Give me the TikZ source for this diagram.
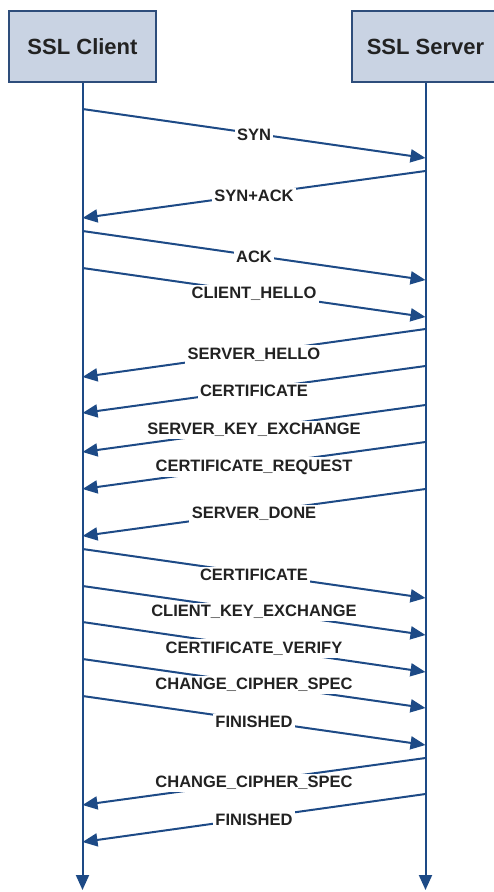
\documentclass[tikz,border=0pt]{standalone}
\usepackage{fontspec}
\setmainfont{Liberation Sans}
\usepackage{tikz}
\usetikzlibrary{arrows.meta}

\definecolor{azul}{HTML}{1D4A86}
\definecolor{borde}{HTML}{2E4D7B}
\definecolor{relleno}{HTML}{C9D3E3}
\definecolor{texto}{HTML}{222222}

\begin{document}
\begin{tikzpicture}[x=1pt, y=-1pt,
    caja/.style={draw=borde, line width=2pt, fill=relleno, minimum width=147pt, minimum height=71pt, text=texto, font=\bfseries\fontsize{22}{26}\selectfont},
    flecha/.style={draw=azul, line width=2pt, -{Triangle[length=15pt,width=13pt]}},
    etiqueta/.style={midway, fill=white, inner sep=2.5pt, yshift=-1.5pt, text=texto, font=\bfseries\fontsize{16.5}{18}\selectfont}]
  \useasboundingbox (0,0) rectangle (494,892);
  \clip (0,0) rectangle (494,892);

  % Cajas
  \node[caja] (cliente) at (82.5,46.5) {SSL Client};
  \node[caja] (servidor) at (425.5,46.5) {SSL Server};

  % Lineas de vida
  \coordinate (cfin) at (82.5,890);
  \coordinate (sfin) at (425.5,890);
  \draw[flecha] (cliente.south) -- (cfin);
  \draw[flecha] (servidor.south) -- (sfin);

  % Puntos de los mensajes
  \coordinate (c1) at (82.5,109);   \coordinate (s1) at (425.5,158);
  \coordinate (c2) at (82.5,218);   \coordinate (s2) at (425.5,171);
  \coordinate (c3) at (82.5,231);   \coordinate (s3) at (425.5,280);
  \coordinate (c4) at (82.5,268);   \coordinate (s4) at (425.5,317);
  \coordinate (c5) at (82.5,377);   \coordinate (s5) at (425.5,329);
  \coordinate (c6) at (82.5,413);   \coordinate (s6) at (425.5,366);
  \coordinate (c7) at (82.5,452);   \coordinate (s7) at (425.5,405);
  \coordinate (c8) at (82.5,489);   \coordinate (s8) at (425.5,442);
  \coordinate (c9) at (82.5,536);   \coordinate (s9) at (425.5,489);
  \coordinate (c10) at (82.5,549);  \coordinate (s10) at (425.5,598);
  \coordinate (c11) at (82.5,586);  \coordinate (s11) at (425.5,635);
  \coordinate (c12) at (82.5,622);  \coordinate (s12) at (425.5,672);
  \coordinate (c13) at (82.5,659);  \coordinate (s13) at (425.5,708);
  \coordinate (c14) at (82.5,696);  \coordinate (s14) at (425.5,745);
  \coordinate (c15) at (82.5,805);  \coordinate (s15) at (425.5,758);
  \coordinate (c16) at (82.5,842);  \coordinate (s16) at (425.5,794);

  % Mensajes
  \draw[flecha] (c1) -- node[etiqueta] {SYN} (s1);
  \draw[flecha] (s2) -- node[etiqueta] {SYN+ACK} (c2);
  \draw[flecha] (c3) -- node[etiqueta] {ACK} (s3);
  \draw[flecha] (c4) -- node[etiqueta] {CLIENT\_HELLO} (s4);
  \draw[flecha] (s5) -- node[etiqueta] {SERVER\_HELLO} (c5);
  \draw[flecha] (s6) -- node[etiqueta] {CERTIFICATE} (c6);
  \draw[flecha] (s7) -- node[etiqueta] {SERVER\_KEY\_EXCHANGE} (c7);
  \draw[flecha] (s8) -- node[etiqueta] {CERTIFICATE\_REQUEST} (c8);
  \draw[flecha] (s9) -- node[etiqueta] {SERVER\_DONE} (c9);
  \draw[flecha] (c10) -- node[etiqueta] {CERTIFICATE} (s10);
  \draw[flecha] (c11) -- node[etiqueta] {CLIENT\_KEY\_EXCHANGE} (s11);
  \draw[flecha] (c12) -- node[etiqueta] {CERTIFICATE\_VERIFY} (s12);
  \draw[flecha] (c13) -- node[etiqueta] {CHANGE\_CIPHER\_SPEC} (s13);
  \draw[flecha] (c14) -- node[etiqueta] {FINISHED} (s14);
  \draw[flecha] (s15) -- node[etiqueta] {CHANGE\_CIPHER\_SPEC} (c15);
  \draw[flecha] (s16) -- node[etiqueta] {FINISHED} (c16);
\end{tikzpicture}
\end{document}
